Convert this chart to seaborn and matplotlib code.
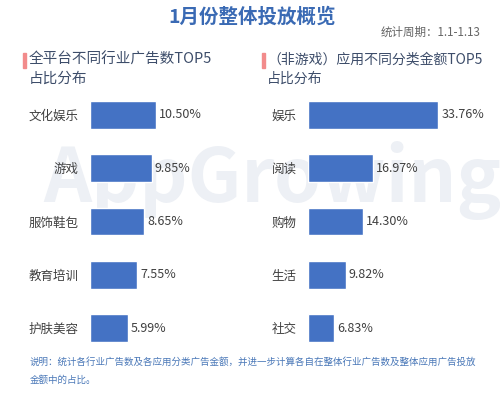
import numpy as np
import pandas as pd
import seaborn as sns
import matplotlib.pyplot as plt
from matplotlib.patches import Rectangle

# Data
industry = ['文化娱乐', '游戏', '服饰鞋包', '教育培训', '护肤美容']
industry_share = [10.50, 9.85, 8.65, 7.55, 5.99]

app_category = ['娱乐', '阅读', '购物', '生活', '社交']
app_share = [33.76, 16.97, 14.30, 9.82, 6.83]

sns.set_style('white')
plt.rcParams['font.family'] = ['Noto Sans CJK SC', 'DejaVu Sans']

W, H = 500, 397
fig = plt.figure(figsize=(W / 100, H / 100), dpi=100)
fig.patch.set_facecolor('white')

bar_color = '#4472C4'
label_color = '#404040'


def px(x, y):
    return x / W, 1 - y / H


# faint watermark behind the bars
fig.text(*px(272, 180), 'AppGrowing', fontsize=54, fontweight='bold',
         color='#edf0f5', ha='center', va='center', zorder=-1)


def panel(left_px, width_px, units_per_px, cats, vals):
    top, bottom = 88.35, 354.65
    ax = fig.add_axes([left_px / W, 1 - bottom / H, width_px / W, (bottom - top) / H])
    ax.patch.set_alpha(0)
    df = pd.DataFrame({'cat': cats, 'val': vals})
    sns.barplot(data=df, y='cat', x='val', orient='h', color=bar_color,
                saturation=1, width=0.525, ax=ax)
    ax.set_xlim(0, width_px * units_per_px)
    ax.set_ylim(4.5, -0.5)
    for i, v in enumerate(vals):
        ax.text(v + 3 * units_per_px, i, f'{v:.2f}%', va='center', ha='left',
                fontsize=9, color=label_color)
    ax.set_xlabel('')
    ax.set_ylabel('')
    ax.set_xticks([])
    ax.tick_params(axis='y', length=0, labelsize=9, labelcolor=label_color, pad=8)
    sns.despine(ax=ax, left=True, bottom=True)
    return ax


ax1 = panel(90, 110, 1 / 6.29, industry, industry_share)
ax2 = panel(307.7, 172, 1 / 3.87, app_category, app_share)

# titles
fig.text(*px(252, 17), '1月份整体投放概览', fontsize=14, fontweight='bold',
         color='#3a6ab4', ha='center', va='center')
fig.text(*px(481, 32), '统计周期：1.1-1.13', fontsize=8.3, color='#666666',
         ha='right', va='center')

sub_color = '#3d4d6a'
fig.patches.append(Rectangle(px(23, 68), 3 / W, 15 / H, transform=fig.transFigure,
                             color='#f28b8b', figure=fig))
fig.text(*px(29, 69), '全平台不同行业广告数TOP5\n占比分布', fontsize=10.5,
         color=sub_color, ha='left', va='center', linespacing=1.45)
fig.patches.append(Rectangle(px(262, 68), 3 / W, 15 / H, transform=fig.transFigure,
                             color='#f28b8b', figure=fig))
fig.text(*px(267, 69), '（非游戏）应用不同分类金额TOP5\n占比分布', fontsize=10,
         color=sub_color, ha='left', va='center', linespacing=1.5)

# footnote
fig.text(*px(30, 371), '说明：统计各行业广告数及各应用分类广告金额，并进一步计算各自在整体行业广告数及整体应用广告投放\n金额中的占比。',
         fontsize=6.85, color='#4a78b8', ha='left', va='center', linespacing=2.0)

fig.savefig('out.png', dpi=100, facecolor='white')
